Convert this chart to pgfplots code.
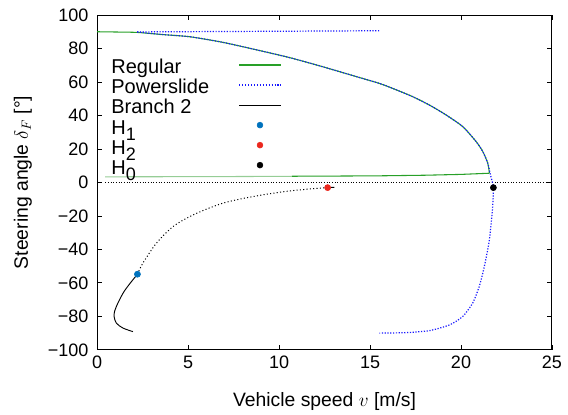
\documentclass[border=0pt]{standalone}
\usepackage{fontspec}
\setmainfont{Liberation Sans}
\usepackage{pgfplots}
\pgfplotsset{compat=1.18}

\definecolor{regular}{RGB}{40,160,40}
\definecolor{regularlight}{RGB}{150,205,150}
\definecolor{powerslide}{RGB}{25,25,255}
\definecolor{hone}{RGB}{0,114,189}
\definecolor{htwo}{RGB}{235,40,30}

\newcommand{\sub}[1]{\raisebox{-0.6ex}{\fontsize{13.5}{13.5}\selectfont #1}}

\begin{document}
\begin{tikzpicture}
\begin{axis}[
    scale only axis,
    width=341pt, height=251pt,
    xmin=0, xmax=25, ymin=-100, ymax=100,
    xtick={0,5,...,25},
    ytick={-100,-80,...,100},
    yticklabels={−100,−80,−60,−40,−20,0,20,40,60,80,100},
    /pgf/number format/assume math mode=true,
    tick label style={font=\fontsize{13.5}{15}\selectfont},
    yticklabel style={xshift=-3pt},
    xticklabel style={yshift=-1pt},
    label style={font=\fontsize{14.5}{16}\selectfont},
    ylabel shift=5pt,
    xlabel shift=11pt,
    tick align=inside, tick pos=both,
    major tick length=3.8pt,
    axis line style={line width=0.75pt},
    every tick/.style={black, line width=0.6pt},
    xlabel={Vehicle speed $v$ [m/s]},
    ylabel={Steering angle $\delta_F$ [°]},
    legend plot pos=right,
    legend cell align=left,
    legend style={draw=none, fill=none, at={(0,1)}, anchor=north west,
        xshift=7.5pt, yshift=-31pt, row sep=0pt, column sep=22pt,
        font=\fontsize{15}{15}\selectfont,
        nodes={inner sep=0pt, text height=11pt, text depth=4pt}},
]
% zero line
\addplot[forget plot, black, line width=0.5pt, dash pattern=on 0.6pt off 1.4pt]
    coordinates {(0.45,0) (25,0)};

% Regular
\addplot[regular, line width=0.8pt, smooth, tension=0.4,
    legend image code/.code={\draw[draw=regular, line width=1.1pt] (0pt,0.6ex) -- (31pt,0.6ex);}]
    coordinates {
    (0,90) (1,89.85) (2.2,89.6) (3.5,88.4) (5.1,87.0) (6.9,83.7) (8.8,79.1)
    (10.6,74.5) (12.4,69.1) (14.25,63.2) (15.5,59.2) (16.1,56.8) (17.35,51.2)
    (18.3,46.0) (19.18,40.3) (20.1,33.3) (20.83,24.4) (21.2,18.4) (21.47,11.5)
    (21.56,5.5)
};
\addlegendentry{Regular}
\addplot[forget plot, regular, line width=0.8pt] coordinates {
    (21.56,5.5) (20,4.8) (18,4.3) (15.5,3.95) (13,3.8) (10.7,3.7)
};
\addplot[forget plot, regularlight, line width=0.8pt] coordinates {
    (10.7,3.65) (7,3.5) (3,3.4) (0.45,3.35)
};

% Powerslide
\addplot[powerslide, line width=0.9pt, dash pattern=on 0.9pt off 1.2pt, smooth, tension=0.4,
    legend image code/.code={\draw[draw=powerslide, line width=1.1pt, dash pattern=on 0.9pt off 1.3pt] (0pt,0.6ex) -- (31pt,0.6ex);}]
    coordinates {
    (2.2,89.9) (3.5,88.4) (5.1,87.0) (6.9,83.7) (8.8,79.1)
    (10.6,74.5) (12.4,69.1) (14.25,63.2) (15.5,59.2) (16.1,56.8) (17.35,51.2)
    (18.3,46.0) (19.18,40.3) (20.1,33.3) (20.83,24.4) (21.2,18.4) (21.47,11.5)
    (21.6,5.5) (21.7,1) (21.78,-3.1) (21.74,-14.4) (21.56,-34.3) (21.28,-50.3)
    (21.0,-62.2) (20.64,-72.1) (20.09,-80.1) (19.37,-85.1) (18.27,-88.5)
    (17.0,-89.7) (15.52,-90.0)
};
\addlegendentry{Powerslide}
\addplot[forget plot, powerslide, line width=0.9pt, dash pattern=on 0.9pt off 1.2pt] coordinates {
    (2.2,89.9) (6,90.1) (10,90.3) (15.5,90.6)
};

% Branch 2
\addplot[black, line width=0.7pt, smooth, tension=0.5,
    legend image code/.code={\draw[draw=black, line width=0.8pt] (0pt,0.6ex) -- (31pt,0.6ex);}]
    coordinates {
    (1.97,-89.1) (1.43,-87.0) (1.06,-84.0) (0.93,-79.1) (1.06,-74.1)
    (1.43,-66.1) (1.79,-60.6) (2.22,-54.8)
};
\addlegendentry{Branch 2}
\addplot[forget plot, black, line width=0.75pt, dash pattern=on 0.8pt off 1.7pt, smooth, tension=0.5] coordinates {
    (2.22,-54.8) (2.52,-48.2) (3.26,-36.3) (4.17,-26.4) (5.09,-20.4) (6.0,-16.0)
    (6.91,-12.4) (7.83,-10.0) (8.74,-8.1) (9.65,-6.5) (10.57,-5.1) (11.49,-4.1)
    (12.67,-3.1)
};
\addplot[forget plot, black, line width=0.7pt] coordinates {(12.67,-3.1) (13.04,-2.9)};

% Hopf points
\addplot[only marks, mark=*, mark size=2.3pt, color=hone,
    legend image code/.code={\fill[hone] (15.5pt,0.6ex) circle (2.2pt);}]
    coordinates {(2.22,-54.8)};
\addlegendentry{H\sub{1}}
\addplot[only marks, mark=*, mark size=2.3pt, color=htwo,
    legend image code/.code={\fill[htwo] (15.5pt,0.6ex) circle (2.2pt);}]
    coordinates {(12.67,-3.1)};
\addlegendentry{H\sub{2}}
\addplot[only marks, mark=*, mark size=2.3pt, color=black,
    legend image code/.code={\fill[black] (15.5pt,0.6ex) circle (2.2pt);}]
    coordinates {(21.78,-3.1)};
\addlegendentry{H\sub{0}}
\end{axis}
\path ([xshift=-72.75pt,yshift=-48pt]current axis.south west)
    rectangle ([xshift=12pt,yshift=11.25pt]current axis.north east);
\end{tikzpicture}
\end{document}
